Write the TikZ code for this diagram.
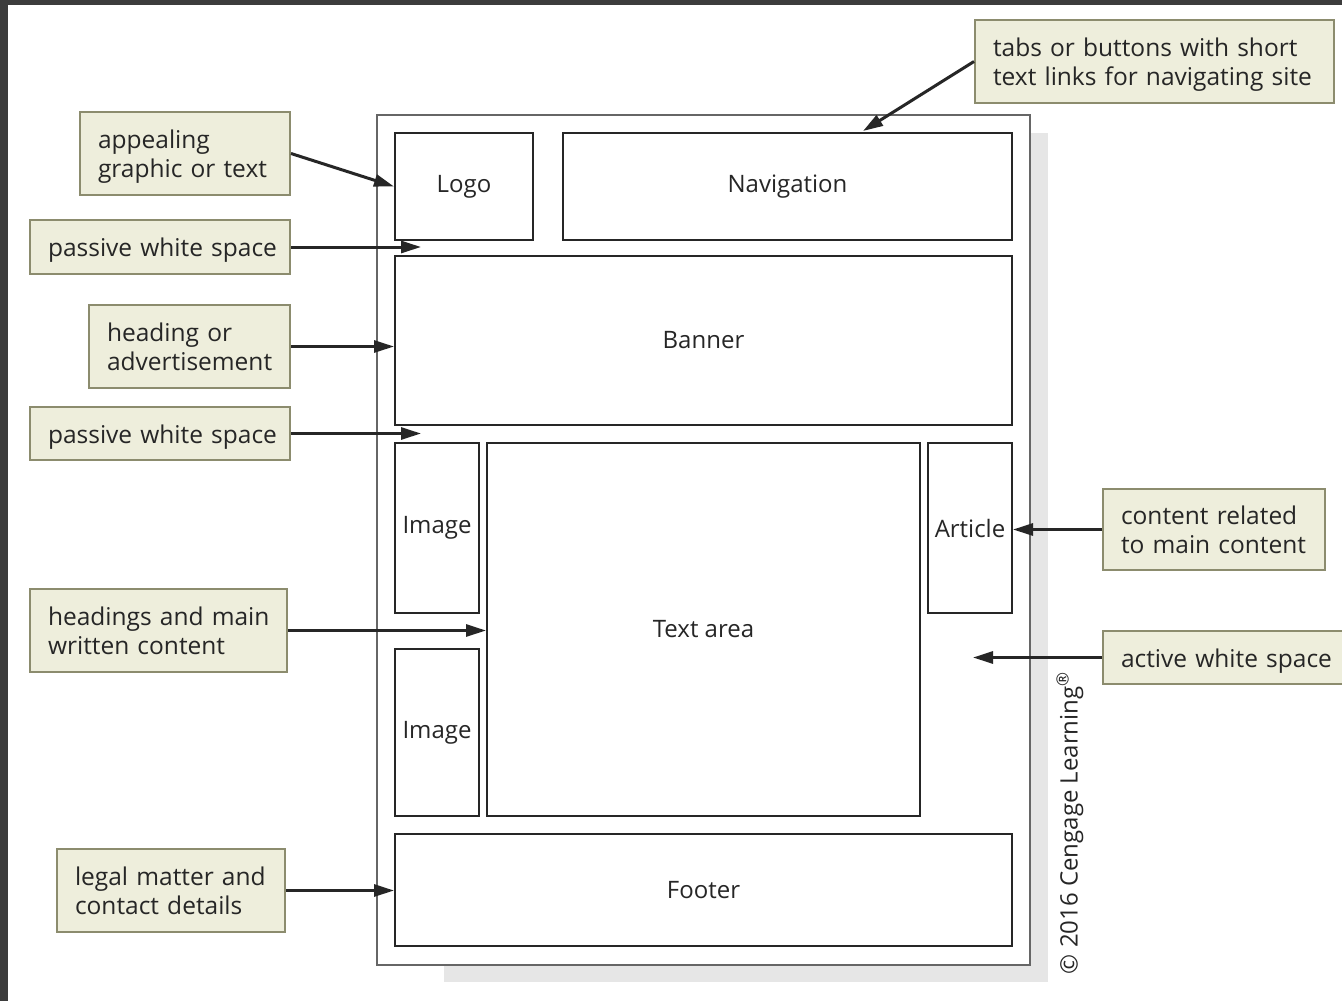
\documentclass[tikz,border=0pt]{standalone}
\usepackage{fontspec}
\setmainfont{Open Sans}
\usetikzlibrary{arrows.meta}
\definecolor{lblfill}{HTML}{EEEEDC}
\definecolor{lbldraw}{HTML}{8C8C6E}
\definecolor{framec}{HTML}{3C3C3C}
\definecolor{shadowc}{HTML}{E6E6E6}
\definecolor{txt}{HTML}{262626}
\newcommand{\lblbox}[6]{\node[lbl, minimum width={#4pt-#2pt}, minimum height={#5pt-#3pt}, text width={#4pt-#2pt-36pt}] (#1) at ({(#2+#4)/2},{(#3+#5)/2}) {\raisebox{0pt}[\dimexpr\height+8pt\relax][\depth]{\begin{tabular}{@{}l@{}}#6\end{tabular}}};}
\newcommand{\partbox}[6]{\node[part, minimum width={#4pt-#2pt}, minimum height={#5pt-#3pt}] (#1) at ({(#2+#4)/2},{(#3+#5)/2}) {#6};}
\begin{document}
\begin{tikzpicture}[x=1pt,y=-1pt,
 lbl/.style={draw=lbldraw, fill=lblfill, line width=2pt, font=\fontsize{24.5}{29}\selectfont, text=txt, align=left, inner xsep=18pt, inner ysep=0pt},
 part/.style={draw=black!85, line width=2pt, font=\fontsize{24}{29}\selectfont, text=txt, inner sep=0pt},
 arr/.style={line width=3pt, draw=black!85, -{Triangle[length=20pt,width=12pt]}}]
\useasboundingbox (0,0) rectangle (1342,1001);
\fill[white] (0,0) rectangle (1342,1001);
\fill[framec] (0,0) rectangle (1342,4.5);
\fill[framec] (0,0) rectangle (8,1001);
\fill[shadowc] (444,133) rectangle (1048,982);
\node[part, draw=black!60, fill=white, minimum width=653pt, minimum height=850pt] (page) at (703.5,540) {};
\partbox{logo}{395}{133}{533}{240}{Logo}
\partbox{nav}{563}{133}{1012}{240}{Navigation}
\partbox{banner}{395}{256}{1012}{425}{Banner}
\partbox{imgA}{395}{443}{479}{613}{Image}
\partbox{textarea}{487}{443}{920}{816}{Text area}
\partbox{article}{928}{443}{1012}{613}{Article}
\partbox{imgB}{395}{649}{479}{816}{Image}
\partbox{footer}{395}{834}{1012}{946}{Footer}
\lblbox{tabs}{975}{20}{1334}{103}{tabs or buttons with short\\text links for navigating site}
\lblbox{appeal}{80}{112}{290}{195}{appealing\\graphic or text}
\lblbox{passA}{30}{220}{290}{274}{passive white space}
\lblbox{heading}{89}{305}{290}{388}{heading or\\advertisement}
\lblbox{passB}{30}{407}{290}{460}{passive white space}
\lblbox{hmain}{30}{589}{287}{672}{headings and main\\written content}
\lblbox{legal}{57}{849}{285}{932}{legal matter and\\contact details}
\lblbox{related}{1103}{489}{1325}{570}{content related\\to main content}
\lblbox{active}{1103}{631}{1344}{684}{active white space}
\coordinate (navpt) at (863,131);
\coordinate (gapA) at (421,247);
\coordinate (gapB) at (421,433.5);
\coordinate (activept) at (973,657.5);
\draw[arr] (tabs.west) -- (navpt);
\draw[arr] (appeal.east) -- (logo.west);
\draw[arr] (passA.east) -- (gapA);
\draw[arr] (heading.east) -- (heading.east -| banner.west);
\draw[arr] (passB.east) -- (gapB);
\draw[arr] (hmain.east) -- (hmain.east -| textarea.west);
\draw[arr] (legal.east) -- (legal.east -| footer.west);
\draw[arr] (related.west) -- (related.west -| article.east);
\draw[arr] (active.west) -- (activept);
\node[rotate=90, font=\fontsize{24}{28}\selectfont, text=txt, inner sep=0pt] (copyr) at (1070,823) {© 2016 Cengage Learning\textsuperscript{®}};
\end{tikzpicture}
\end{document}
